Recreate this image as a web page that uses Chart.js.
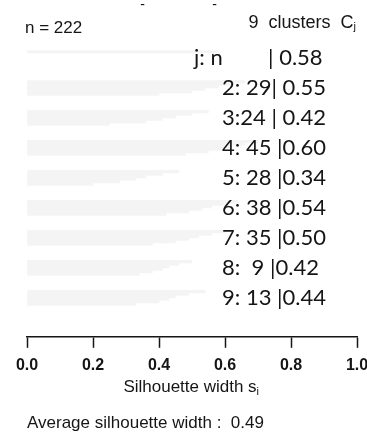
<!DOCTYPE html>
<html>
<head>
<meta charset="utf-8">
<script src="https://cdn.jsdelivr.net/npm/chart.js@4/dist/chart.umd.min.js"></script>
<style>
  html, body { margin: 0; padding: 0; background: #fff; }
  #wrap { width: 367px; height: 446px; position: relative; }
</style>
</head>
<body>
<div id="wrap"><canvas id="silChart"></canvas></div>
<script>
// Datos del gráfico de silueta (9 clusters, n = 222)
const clusterIds = [1, 2, 3, 4, 5, 6, 7, 8, 9];
const clusterSizes = [1, 29, 24, 45, 28, 38, 35, 9, 13];
const clusterAvg = [0.58, 0.55, 0.42, 0.60, 0.34, 0.54, 0.50, 0.42, 0.44];
const clusterLabels = ['j: n', '2: 29| 0.55', '3:24 | 0.42', '4: 45 |0.60', '5: 28 |0.34',
                       '6: 38 |0.54', '7: 35 |0.50', '8:  9 |0.42', '9: 13 |0.44'];
const xTicks = [0.0, 0.2, 0.4, 0.6, 0.8, 1.0];
const avgWidth = 0.49;
const totalN = 222;

// Anchos de silueta ordenados dentro de cada cluster (estimados, barras muy tenues)
const sil1 = [0.58];
const sil2 = [0.66, 0.62, 0.58, 0.54, 0.50, 0.40];
const sil3 = [0.55, 0.50, 0.45, 0.41, 0.36, 0.25];
const sil4 = [0.70, 0.66, 0.62, 0.59, 0.55, 0.48];
const sil5 = [0.46, 0.41, 0.36, 0.33, 0.28, 0.20];
const sil6 = [0.64, 0.60, 0.56, 0.53, 0.49, 0.42];
const sil7 = [0.60, 0.56, 0.52, 0.49, 0.45, 0.38];
const sil8 = [0.50, 0.46, 0.43, 0.41, 0.38, 0.34];
const sil9 = [0.54, 0.49, 0.45, 0.43, 0.40, 0.33];
const silByCluster = [sil1, sil2, sil3, sil4, sil5, sil6, sil7, sil8, sil9];

const barColor = '#f4f4f4';
const ink = '#151515';

// Un dataset por rango dentro del cluster (barras agrupadas)
const maxRank = Math.max(...silByCluster.map(a => a.length));
const datasets = [];
for (let r = 0; r < maxRank; r++) {
    datasets.push({
        data: silByCluster.map((arr, i) => ({ x: arr[r] ?? null, y: i })),
        backgroundColor: barColor,
        borderWidth: 0,
        categoryPercentage: 1,
        barPercentage: 1
    });
}

// Textos del gráfico (etiquetas de clusters, cabecera, títulos)
const textPlugin = {
    id: 'silText',
    afterDraw(chart) {
        const { ctx, chartArea: { left, right } } = chart;
        const xs = chart.scales.x, ys = chart.scales.y;
        ctx.save();
        ctx.fillStyle = ink;
        ctx.textBaseline = 'middle';

        // etiquetas de los clusters
        ctx.font = "22px Lato, 'Open Sans', sans-serif";
        ctx.textAlign = 'left';
        clusterLabels.forEach((lab, i) => {
            const y = ys.getPixelForValue(i);
            if (i === 0) {
                ctx.fillText(lab, 194, y);
                ctx.fillText('| ' + clusterAvg[0].toFixed(2), 268, y);
            } else {
                ctx.fillText(lab, 222, y);
            }
        });

        // cabecera
        ctx.font = "17px 'Liberation Sans', Arial, sans-serif";
        ctx.fillText('n = ' + totalN, left - 2, 28);
        ctx.textAlign = 'right';
        ctx.font = "11px 'Liberation Sans', Arial, sans-serif";
        ctx.fillText('j', right - 1, 27);
        const jw = ctx.measureText('j').width;
        ctx.font = "18px 'Liberation Sans', Arial, sans-serif";
        ctx.fillText(clusterIds.length + '  clusters  C', right - 1 - jw, 23);
        ctx.font = "14px 'Liberation Sans', Arial, sans-serif";
        ctx.fillText('-', 145, 5);
        ctx.fillText('-', 217, 5);

        // título del eje x con subíndice
        ctx.textAlign = 'left';
        ctx.font = "17px 'Liberation Sans', Arial, sans-serif";
        const t = 'Silhouette width s';
        const tw = ctx.measureText(t).width;
        const cx = xs.getPixelForValue(0.5);
        const tx = cx - (tw + 4) / 2;
        ctx.fillText(t, tx, 387);
        ctx.font = "11px 'Liberation Sans', Arial, sans-serif";
        ctx.fillText('i', tx + tw, 392);

        // ancho medio de silueta
        ctx.font = "17px 'Liberation Sans', Arial, sans-serif";
        ctx.fillText('Average silhouette width :  ' + avgWidth.toFixed(2), left, 423);
        ctx.restore();
    }
};

new Chart(document.getElementById('silChart').getContext('2d'), {
    type: 'bar',
    data: { datasets },
    plugins: [textPlugin],
    options: {
        indexAxis: 'y',
        responsive: true,
        maintainAspectRatio: false,
        animation: false,
        layout: { padding: { left: 27, right: 10, top: 43, bottom: 63 } },
        plugins: { legend: { display: false }, tooltip: { enabled: false } },
        scales: {
            y: {
                type: 'linear',
                reverse: true,
                offset: false,
                min: -0.5,
                max: 9.3,
                display: false
            },
            x: {
                type: 'linear',
                position: 'bottom',
                min: 0,
                max: 1,
                afterBuildTicks(scale) {
                    scale.ticks = xTicks.map(v => ({ value: v }));
                },
                afterFit(scale) {
                    scale.paddingLeft = 0;
                    scale.paddingRight = 0;
                },
                border: { display: true, color: ink, width: 1.5 },
                grid: {
                    drawOnChartArea: false,
                    drawTicks: true,
                    tickLength: 11,
                    tickWidth: 1.5,
                    tickColor: ink
                },
                ticks: {
                    color: ink,
                    padding: 8,
                    maxRotation: 0,
                    autoSkip: false,
                    font: { family: "'Liberation Sans', Arial, sans-serif", size: 16, weight: 'bold', lineHeight: 1.2 },
                    callback: v => v.toFixed(1)
                }
            }
        }
    }
});
</script>
</body>
</html>
